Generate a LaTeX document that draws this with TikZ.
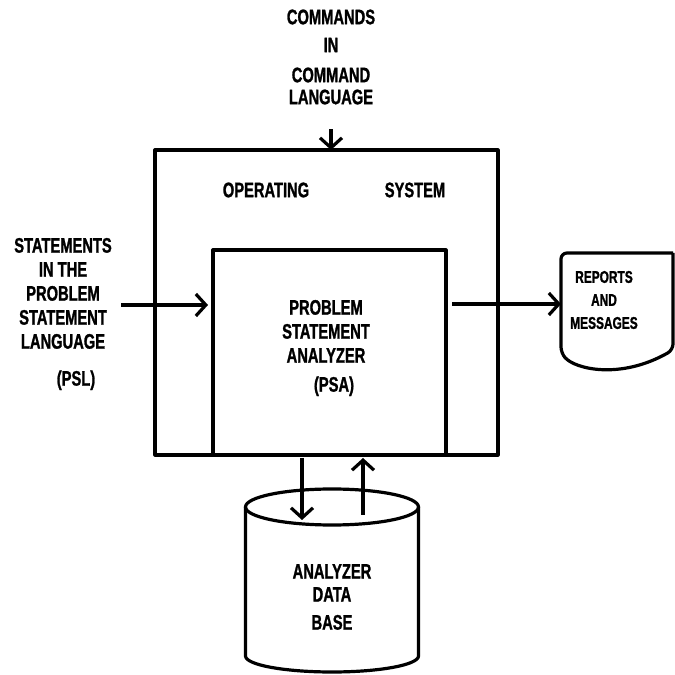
\documentclass[tikz,border=0pt]{standalone}
\usepackage{fontspec}
\usepackage{tikz}
\usetikzlibrary{positioning,arrows.meta}
\newfontfamily\lettering{Liberation Sans}[FakeStretch=0.7, BoldFeatures={FakeBold=1.2}]

\begin{document}
\begin{tikzpicture}[x=1pt, y=1pt, line width=3.2pt, line join=round]
      \tikzstyle{caps} = [font=\lettering\bfseries\fontsize{21}{24}\selectfont, align=center, inner sep=0pt]
      \tikzstyle{smallcaps} = [caps, font=\lettering\bfseries\fontsize{17}{23}\selectfont]
      \tikzstyle{box} = [draw, rectangle, outer sep=0pt, anchor=south west]
      \tikzstyle{ghost} = [rectangle, outer sep=0pt, inner sep=0pt]
      \tikzstyle{arrow} = [-{Straight Barb[length=10pt,width=22pt]}]
      \useasboundingbox (0,0) rectangle (675,675);
      % operating system with the analyzer inside
      \node[box, minimum width=343pt, minimum height=305pt] (os) at (155,220) {};
      \node[box, minimum width=233pt, minimum height=205pt] (psa) at (213,220) {};
      \node[caps] (osname) at (266,485) {OPERATING};
      \node[caps] (osname2) at (415,485) {SYSTEM};
      \node[caps] (psaname) at (326,327) {PROBLEM\\STATEMENT\\ANALYZER\\[5pt]\hspace*{16pt}(PSA)};
      % inputs
      \node[caps] (cmd) at (331,618) {COMMANDS\\[4pt]IN\\[6pt]COMMAND\\[-2pt]LANGUAGE};
      \node[caps] (psl) at (63,361) {STATEMENTS\\IN THE\\PROBLEM\\STATEMENT\\LANGUAGE\\[13pt]\hspace*{26pt}(PSL)};
      % output document
      \node[ghost, minimum width=112pt, minimum height=102pt, anchor=north west] (docbox) at (561,422) {};
      \draw[rounded corners=6pt] (docbox.north east) -- (docbox.north west) -- ([yshift=2pt]docbox.south west)
        .. controls (575,306) and (620,295) .. (673,325) -- (docbox.north east);
      \node[smallcaps] (doc) at (604,375) {REPORTS\\AND\\MESSAGES};
      % data base
      \node[ghost, minimum width=173pt, minimum height=149pt, anchor=south] (db) at (332,19) {};
      \draw (db.north west) -- (db.south west) arc[start angle=180, end angle=360, x radius=86.5, y radius=16] -- (db.north east);
      \draw (db.north) ellipse[x radius=86.5, y radius=18];
      \node[caps] (dbname) at (332,78) {ANALYZER\\[-1pt]DATA\\[4pt]BASE};
      % connectors
      \draw[arrow, shorten <=23pt] (cmd.south) -- (cmd.south |- os.north);
      \draw[arrow, shorten >=5pt] ([xshift=8pt,yshift=9pt]psl.east) -- ([yshift=9pt]psl.east -| psa.west);
      \draw[arrow, shorten <=6pt] (psa.east |- docbox.west) -- (docbox.west);
      \draw[arrow, shorten <=3pt] ([xshift=-30pt]db.north |- os.south) -- ([xshift=-30pt,yshift=-13pt]db.north);
      \draw[arrow, shorten >=3pt] ([xshift=31pt,yshift=-8pt]db.north) -- ([xshift=31pt]db.north |- os.south);
    \end{tikzpicture}
\end{document}
